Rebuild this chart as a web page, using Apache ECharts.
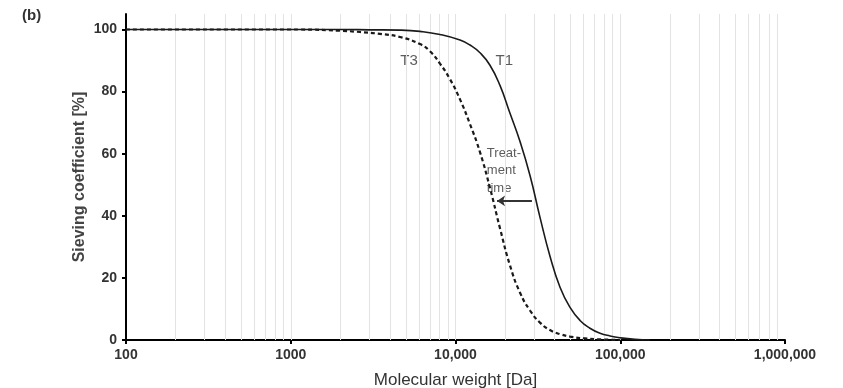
<!DOCTYPE html>
<html>
<head>
<meta charset="utf-8">
<script src="https://cdn.jsdelivr.net/npm/echarts@6/dist/echarts.min.js"></script>
<style>
html,body{margin:0;padding:0;background:#fff;}
#c{width:843px;height:388px;}
</style>
</head>
<body>
<div id="c"></div>
<script>
// ---- data ----
var t1X = [100, 1000, 2000, 3000, 4600, 6090, 8050, 10650, 12250, 14080, 16190, 18620, 21420, 24610, 28330, 32580, 37460, 43090, 49550, 56980, 65460, 75370, 86670, 100000, 122900, 151600];
var t1Y = [100, 100, 100, 99.9, 99.8, 99.4, 98.4, 96.6, 95, 92.5, 88.5, 82, 73, 64, 53, 39.5, 27, 17, 10.5, 6.3, 3.8, 2.2, 1.3, 0.7, 0.2, 0];
var t3X = [100, 1000, 1138, 1990, 2630, 3480, 4600, 6090, 7000, 8050, 9260, 10650, 12250, 14080, 16190, 18620, 21420, 24610, 28330, 32580, 37460, 43090, 49550, 61100, 75370, 100000];
var t3Y = [100, 100, 100, 99.6, 99.2, 98.6, 97.6, 95.3, 93, 89, 84, 77.5, 69.5, 60.5, 49, 36, 24, 15.3, 9.5, 5.6, 3.2, 1.9, 1.1, 0.5, 0.2, 0];
var xTicks = [100, 1000, 10000, 100000, 1000000];
var xTickLabels = ['100', '1000', '10,000', '100,000', '1,000,000'];
var yTicks = [0, 20, 40, 60, 80, 100];
var seriesNames = ['T1', 'T3'];
var panelLabel = '(b)';
var xName = 'Molecular weight [Da]';
var yName = 'Sieving coefficient [%]';
var annotText = 'Treat-\nment\ntime';
// annotation anchors in data units
var t1LabelPos = [19800, 89.9];
var t3LabelPos = [5224, 89.9];
var annotPos = [15500, 54.6];
var arrowFrom = [29100, 44.8];
var arrowTo = [17870, 44.8];

// light vertical grid lines at 2..9 x each decade plus decades
var gridVals = [];
for (var d = 100; d < 1000000; d *= 10) {
  for (var k = 1; k <= 9; k++) { if (!(k === 1 && d === 100)) gridVals.push(d * k); }
}

function zip(a, b) { return a.map(function (v, i) { return [v, b[i]]; }); }

var chart = echarts.init(document.getElementById('c'), null, {renderer: 'canvas'});
var txt = '#333';
var FF = '"Liberation Sans", Arial, sans-serif';
var option = {
  animation: false,
  backgroundColor: '#fff',
  grid: {left: 126, right: 58, top: 14, bottom: 48, containLabel: false, outerBoundsMode: 'none'},
  xAxis: {
    type: 'log', logBase: 10, min: 100, max: 1000000,
    name: xName, nameLocation: 'middle', nameGap: 32, nameMoveOverlap: false,
    nameTextStyle: {fontFamily: FF, fontSize: 17, color: '#333'},
    axisLine: {show: true, lineStyle: {color: '#000', width: 2}},
    axisTick: {show: true, length: 4, inside: false, lineStyle: {color: '#000', width: 2}, customValues: xTicks},
    axisLabel: {
      customValues: xTicks, margin: 8,
      fontFamily: FF, fontSize: 14, fontWeight: 'bold', color: txt,
      formatter: function (v) { var i = xTicks.indexOf(Math.round(v)); return i >= 0 ? xTickLabels[i] : ''; }
    },
    splitLine: {show: false},
    minorTick: {show: false}, minorSplitLine: {show: false}
  },
  yAxis: {
    type: 'value', min: 0, max: 105,
    name: yName, nameLocation: 'middle', nameGap: 38, nameRotate: 90, nameMoveOverlap: false,
    nameTextStyle: {fontFamily: FF, fontSize: 16, fontWeight: 'bold', color: '#444'},
    axisLine: {show: true, lineStyle: {color: '#000', width: 2}},
    axisTick: {show: true, length: 4, inside: false, lineStyle: {color: '#000', width: 2}, customValues: yTicks},
    axisLabel: {customValues: yTicks, margin: 9, fontFamily: FF, fontSize: 14, fontWeight: 'bold', color: txt},
    splitLine: {show: false}
  },
  graphic: [{
    type: 'text', left: 22, top: 8,
    style: {text: panelLabel, font: 'bold 15px "Liberation Sans", Arial', fill: '#333'}
  }],
  series: [
    {
      name: 'grid', type: 'line', data: [], silent: true,
      markLine: {
        silent: true, symbol: ['none', 'none'], animation: false,
        label: {show: false},
        lineStyle: {color: '#e3e3e3', width: 1, type: 'solid'},
        emphasis: {disabled: true},
        data: gridVals.map(function (v) { return {xAxis: v}; })
      }
    },
    {
      name: seriesNames[0], type: 'line', data: zip(t1X, t1Y),
      smooth: true, showSymbol: false, symbol: 'none',
      lineStyle: {color: '#1a1a1a', width: 1.6, type: 'solid'}, z: 5
    },
    {
      name: seriesNames[1], type: 'line', data: zip(t3X, t3Y),
      smooth: true, showSymbol: false, symbol: 'none',
      lineStyle: {color: '#1a1a1a', width: 2.2, type: [4, 3]}, z: 6
    },
    {
      name: 'arrow', type: 'line', data: [], silent: true,
      markLine: {
        silent: true, animation: false,
        symbol: ['none', 'arrow'], symbolSize: [8, 8],
        label: {show: false},
        lineStyle: {color: '#333', width: 2, type: 'solid'},
        emphasis: {disabled: true},
        data: [[{coord: arrowFrom}, {coord: arrowTo}]]
      }
    },
    {
      name: 'labels', type: 'scatter', symbolSize: 0, silent: true,
      data: [
        {value: t1LabelPos, label: {show: true, formatter: seriesNames[0], position: 'inside', fontSize: 15, color: '#333', fontFamily: FF}},
        {value: t3LabelPos, label: {show: true, formatter: seriesNames[1], position: 'inside', fontSize: 15, color: '#333', fontFamily: FF}},
        {value: annotPos, label: {show: true, formatter: annotText, position: 'right', distance: 0, align: 'left', lineHeight: 17.5, fontSize: 13, color: '#333', fontFamily: FF}}
      ]
    }
  ]
};
chart.setOption(option);
</script>
</body>
</html>
